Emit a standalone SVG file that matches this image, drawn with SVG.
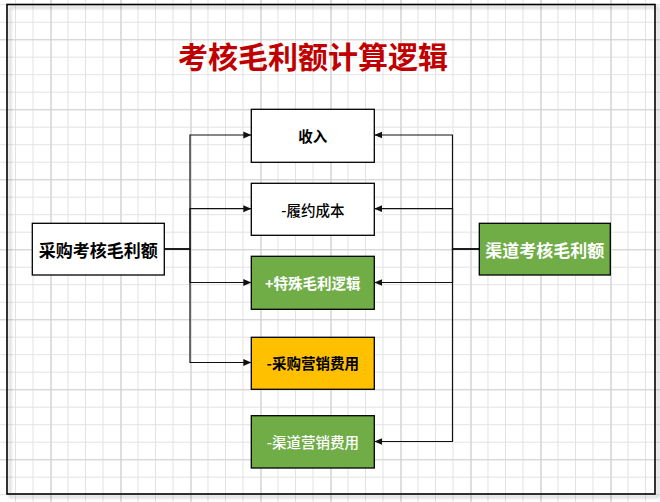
<svg xmlns="http://www.w3.org/2000/svg" width="660" height="502" viewBox="0 0 660 502">
  <style>
    .box { stroke: #000; stroke-width: 1.3; }
    .white { fill: #ffffff; }
    .green { fill: #70AD47; }
    .orange { fill: #FFC000; }
    .lbl { font-family: "Noto Sans CJK SC", "Noto Sans CJK TC", sans-serif; font-size: 14.5px; text-anchor: middle; dominant-baseline: central; }
    .big { font-size: 17px; font-weight: bold; }
    .b { font-weight: bold; }
    .m { font-weight: 500; }
    .dark { fill: #000; }
    .light { fill: #fff; }
    .edge { fill: none; stroke: #111; stroke-width: 1.2; }
    .title { font-family: "Noto Sans CJK SC", "Noto Sans CJK TC", sans-serif; font-size: 30px; font-weight: bold; fill: #C00000; text-anchor: middle; dominant-baseline: central; }
  </style>
  <defs>
    <pattern id="minor" width="17.5" height="17.5" x="15" y="4.2" patternUnits="userSpaceOnUse">
      <path d="M0 0 H17.5 M0 0 V17.5" fill="none" stroke="#e2e2e2" stroke-width="1" shape-rendering="crispEdges"/>
    </pattern>
    <pattern id="major" width="70" height="70" x="50.7" y="39.3" patternUnits="userSpaceOnUse">
      <path d="M0 0 H70 M0 0 V70" fill="none" stroke="#d2d2d2" stroke-width="1" shape-rendering="crispEdges"/>
    </pattern>
    <filter id="shadow" x="-5%" y="-5%" width="110%" height="110%">
      <feGaussianBlur in="SourceAlpha" stdDeviation="1.8"/>
      <feOffset dx="3" dy="3" result="b"/>
      <feComponentTransfer><feFuncA type="linear" slope="0.25"/></feComponentTransfer>
      <feMerge><feMergeNode/><feMergeNode in="SourceGraphic"/></feMerge>
    </filter>
    <marker id="arr" markerUnits="userSpaceOnUse" markerWidth="10" markerHeight="10" refX="8" refY="4" orient="auto">
      <path d="M0 0.5 L8 4 L0 7.5 Z" fill="#111"/>
    </marker>
  </defs>

  <rect width="660" height="502" fill="#ffffff"/>
  <rect width="660" height="502" fill="url(#minor)"/>
  <rect width="660" height="502" fill="url(#major)"/>

  <rect id="frame" x="7" y="4.5" width="648" height="489.5" fill="none" stroke="#000" stroke-width="1.6" filter="url(#shadow)"/>

  <text class="title" x="313" y="55">考核毛利额计算逻辑</text>

  <g id="connectors">
    <path class="edge" d="M164.3 249 H190 V135 H251.3" marker-end="url(#arr)"/>
    <path class="edge" d="M164.3 249 H190 V208.7 H251.3" marker-end="url(#arr)"/>
    <path class="edge" d="M164.3 249 H190 V282.5 H251.3" marker-end="url(#arr)"/>
    <path class="edge" d="M164.3 249 H190 V362.5 H251.3" marker-end="url(#arr)"/>
    <path class="edge" d="M479.3 249 H452.5 V135 H374.3" marker-end="url(#arr)"/>
    <path class="edge" d="M479.3 249 H452.5 V208.7 H374.3" marker-end="url(#arr)"/>
    <path class="edge" d="M479.3 249 H452.5 V282.5 H374.3" marker-end="url(#arr)"/>
    <path class="edge" d="M479.3 249 H452.5 V441.5 H374.3" marker-end="url(#arr)"/>
  </g>

  <g id="node-purchase">
    <rect class="box white" x="32.3" y="223.3" width="132" height="51.7"/>
    <text class="lbl big dark" x="98.3" y="249.3">采购考核毛利额</text>
  </g>
  <g id="node-channel">
    <rect class="box green" x="479.3" y="223.3" width="131" height="51.7"/>
    <text class="lbl big light" x="544.8" y="249.3">渠道考核毛利额</text>
  </g>
  <g id="node-revenue">
    <rect class="box white" x="251.3" y="109.3" width="123" height="53"/>
    <text class="lbl b dark" x="312.8" y="135.5">收入</text>
  </g>
  <g id="node-fulfil">
    <rect class="box white" x="251.3" y="183.3" width="123" height="52"/>
    <text class="lbl m dark" x="312.8" y="209">-履约成本</text>
  </g>
  <g id="node-special">
    <rect class="box green" x="251.3" y="256.3" width="123" height="53"/>
    <text class="lbl b light" x="312.8" y="282.5">+特殊毛利逻辑</text>
  </g>
  <g id="node-purchase-mkt">
    <rect class="box orange" x="251.3" y="337.3" width="123" height="52"/>
    <text class="lbl b dark" x="312.8" y="362.5">-采购营销费用</text>
  </g>
  <g id="node-channel-mkt">
    <rect class="box green" x="251.3" y="415.7" width="123" height="52.3"/>
    <text class="lbl m light" x="312.8" y="441.5">-渠道营销费用</text>
  </g>
</svg>
